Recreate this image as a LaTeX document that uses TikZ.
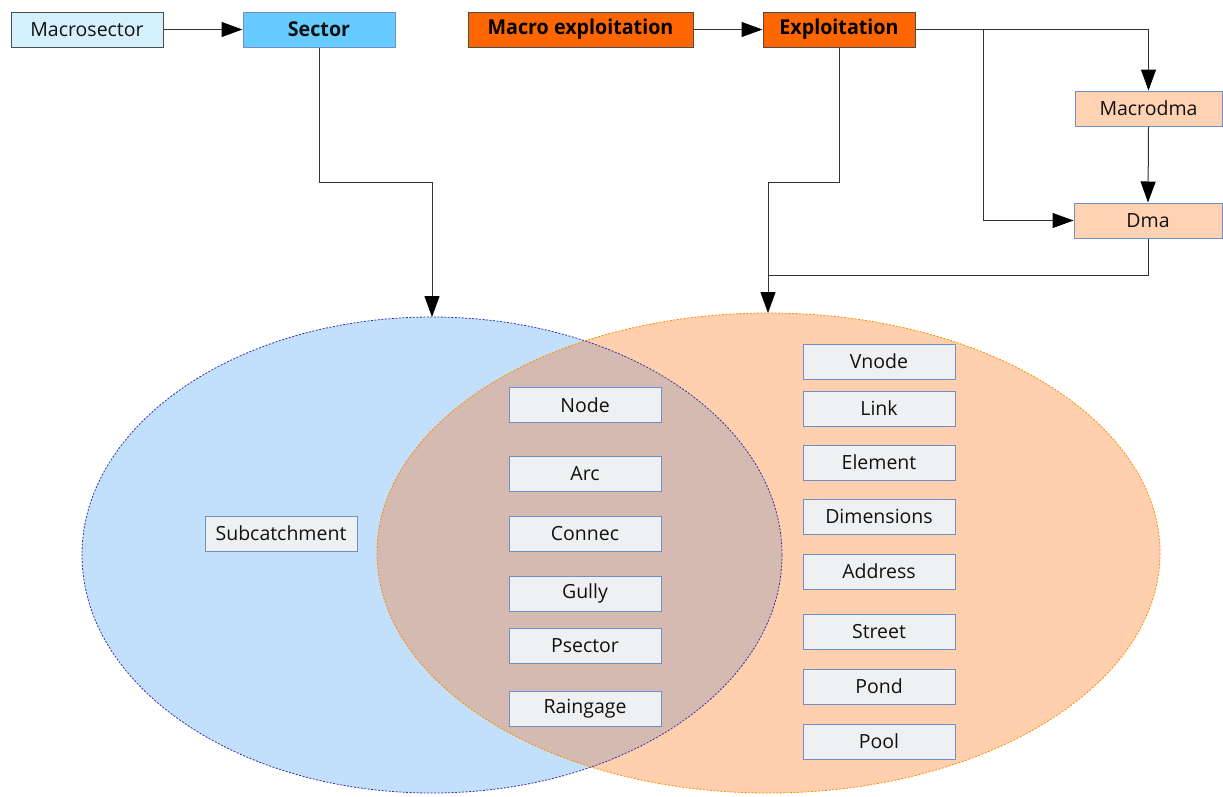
\documentclass[tikz,border=0pt]{standalone}
\usepackage{fontspec}
\setmainfont{Open Sans}
\newfontfamily\condbold[FakeStretch=0.96]{Open Sans Bold}
\usetikzlibrary{arrows.meta}
\definecolor{msfill}{HTML}{D5F0FD}
\definecolor{secfill}{HTML}{66CCFF}
\definecolor{orfill}{HTML}{FF6600}
\definecolor{peach}{HTML}{FFD2B3}
\definecolor{bluell}{HTML}{C2E0FB}
\definecolor{orell}{HTML}{FFCFAE}
\definecolor{ovl}{HTML}{D4BAB0}
\definecolor{boxfill}{HTML}{EFF0F2}
\definecolor{boxline}{HTML}{6F8FC6}
\definecolor{txt}{HTML}{111111}
\definecolor{conn}{HTML}{333333}
\tikzset{
  base/.style={rectangle, minimum width=152pt, minimum height=35pt, inner sep=0pt, text=txt, font=\fontsize{19.5}{22}\selectfont, line width=1pt},
  item/.style={base, fill=boxfill, draw=boxline},
  topbox/.style={base, fill=msfill, draw=black!70},
  secbox/.style={base, fill=secfill, draw=boxline, font=\fontsize{20.5}{23}\condbold},
  orbox/.style={base, fill=orfill, draw=black!70, text=black, font=\fontsize{20.5}{23}\condbold},
  dmabox/.style={base, fill=peach, draw=boxline},
  link/.style={draw=conn, line width=1pt},
  arr/.style={link, -{Triangle[length=21pt,width=15pt,color=black]}},
}
\begin{document}
\begin{tikzpicture}[x=1pt,y=-1pt]
\useasboundingbox (0,0) rectangle (1223,796);
% ellipses
\fill[bluell] (432,555) ellipse [x radius=350, y radius=238];
\fill[orell] (768.5,553) ellipse [x radius=391.5, y radius=240];
\begin{scope}
\clip (432,555) ellipse [x radius=350, y radius=238];
\fill[ovl] (768.5,553) ellipse [x radius=391.5, y radius=240];
\end{scope}
\draw[draw=blue!60!black!80, dash pattern=on 2pt off 1.5pt, line width=0.8pt] (432,555) ellipse [x radius=350, y radius=238];
\draw[draw=orange!90!yellow, dash pattern=on 2pt off 1.5pt, line width=0.8pt] (768.5,553) ellipse [x radius=391.5, y radius=240];
\coordinate (btop) at (432,317);
\coordinate (otop) at (768,313);
% top boxes
\node[topbox] (ms) at (87,29.5) {Macrosector};
\node[secbox] (sec) at (319,29.5) {Sector};
\node[orbox, minimum width=225pt] (mex) at (580.5,29.5) {Macro exploitation};
\node[orbox] (ex) at (839,29.5) {Exploitation};
\node[dmabox, minimum width=147pt] (mdma) at (1148.5,108.5) {Macrodma};
\node[dmabox, minimum width=148pt] (dma) at (1148,220.5) {Dma};
% items
\node[item] (sub) at (281,533.5) {Subcatchment};
\node[item] (node) at (585,405) {Node};
\node[item] (arc) at (585,473.5) {Arc};
\node[item] (connec) at (585,533.5) {Connec};
\node[item] (gully) at (585,593.5) {Gully};
\node[item] (psector) at (585,645.5) {Psector};
\node[item] (raingage) at (585,708.5) {Raingage};
\node[item] (vnode) at (879,361.5) {Vnode};
\node[item] (link) at (879,408.5) {Link};
\node[item] (element) at (879,462.5) {Element};
\node[item] (dim) at (879,516.5) {Dimensions};
\node[item] (address) at (879,571.5) {Address};
\node[item] (street) at (879,631.5) {Street};
\node[item] (pond) at (879,686.5) {Pond};
\node[item] (pool) at (879,741.5) {Pool};
% connectors
\draw[arr] (ms.east) -- (sec.west);
\draw[arr] (mex.east) -- (ex.west);
\draw[arr] (sec.south) -- ++(0,135) -| (btop);
\draw[arr] (ex.south) -- ++(0,135) -| (otop);
\coordinate (br) at (983,29.5);
\draw[arr] (ex.east) -| (mdma.north);
\draw[arr] (br) |- (dma.west);
\draw[arr] (mdma.south) -- (dma.north);
\draw[link] (dma.south) |- (768,275);
\end{tikzpicture}
\end{document}
